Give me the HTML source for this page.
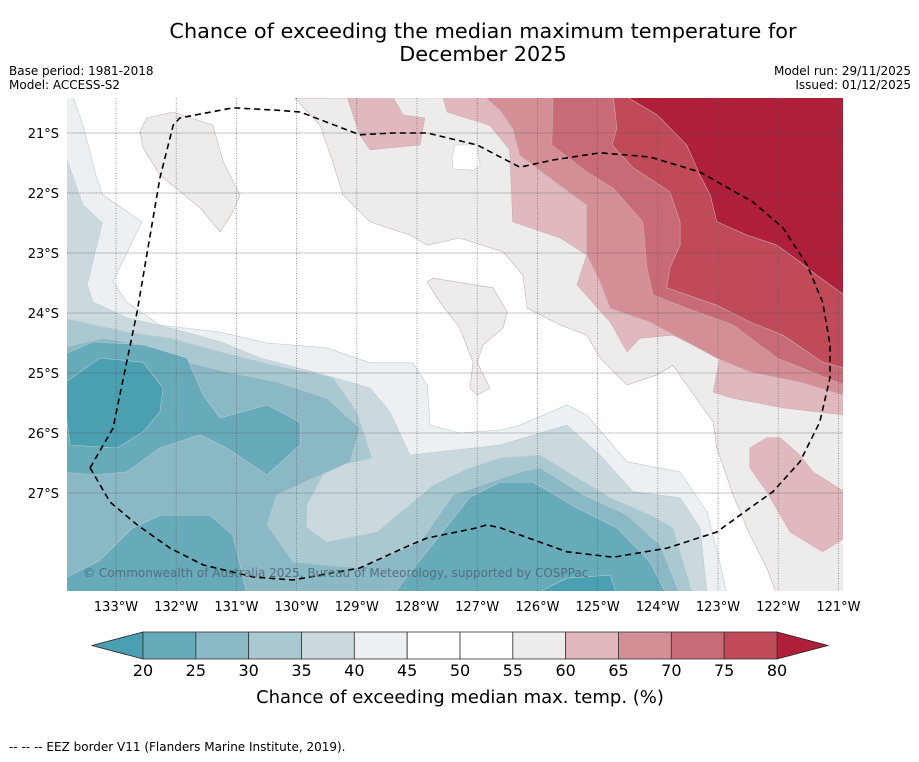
<!DOCTYPE html>
<html><head><meta charset="utf-8">
<style>
html,body{margin:0;padding:0;background:#fff;}
body{width:919px;height:758px;overflow:hidden;font-family:"DejaVu Sans","Liberation Sans",sans-serif;}
svg text{font-family:"DejaVu Sans","Liberation Sans",sans-serif;}
</style></head>
<body>
<svg id="chart" width="919" height="758" viewBox="0 0 919 758" xmlns="http://www.w3.org/2000/svg">
<text x="483" y="38" font-size="20.8" text-anchor="middle" fill="#000">Chance of exceeding the median maximum temperature for</text>
<text x="483" y="61" font-size="20.8" text-anchor="middle" fill="#000">December 2025</text>
<text x="9" y="75" font-size="12">Base period: 1981-2018</text>
<text x="9" y="89" font-size="12">Model: ACCESS-S2</text>
<text x="911" y="75" font-size="12" text-anchor="end">Model run: 29/11/2025</text>
<text x="911" y="89" font-size="12" text-anchor="end">Issued: 01/12/2025</text>
<defs><clipPath id="mapclip"><rect x="67" y="98" width="776" height="493"/></clipPath></defs>
<g id="map" clip-path="url(#mapclip)"></g>
<g id="axes"></g>
<g id="cbar"></g>
<text x="460" y="703" font-size="18" text-anchor="middle">Chance of exceeding median max. temp. (%)</text>
<text x="9" y="751" font-size="12">--  --  -- EEZ border V11 (Flanders Marine Institute, 2019).</text>
</svg>
<script>
var levelColors = ["#4a9fb0","#67aab9","#8ab8c4","#a9c8cf","#cbd9de","#ecf0f2","#ffffff","#ffffff","#eeeceb","#e0b8be","#d48e96","#c96b76","#c04a58","#b01f3a"];
var cbarTicks = [20,25,30,35,40,45,50,55,60,65,70,75,80];
var lonTicks = [-133,-132,-131,-130,-129,-128,-127,-126,-125,-124,-123,-122,-121];
var latTicks = [-21,-22,-23,-24,-25,-26,-27];
var p55 = [[-130.03,-20.42],[-129.61,-20.87],[-129.40,-21.48],[-129.23,-22.03],[-128.78,-22.48],[-128.12,-22.70],[-127.83,-22.87],[-127.29,-22.75],[-126.57,-22.98],[-126.24,-23.37],[-126.17,-23.92],[-125.62,-24.20],[-125.18,-24.37],[-124.96,-24.75],[-124.51,-25.20],[-124.01,-25.03],[-123.75,-24.87],[-123.52,-25.20],[-123.08,-25.82],[-123.02,-26.25],[-122.75,-27.03],[-122.47,-27.70],[-122.19,-28.25],[-122.02,-28.7],[-120.9,-28.7],[-120.9,-20.4]];
var p55nw = [[-132.60,-20.98],[-132.49,-20.75],[-132.05,-20.65],[-131.39,-20.87],[-131.22,-21.48],[-130.94,-22.03],[-131.06,-22.32],[-131.27,-22.65],[-131.60,-22.25],[-132.27,-21.70],[-132.55,-21.25]];
var p55mid = [[-127.83,-23.48],[-127.73,-23.42],[-126.74,-23.58],[-126.50,-23.98],[-126.57,-24.25],[-126.90,-24.53],[-127.00,-24.82],[-126.79,-25.25],[-127.00,-25.37],[-127.12,-25.25],[-127.07,-24.82],[-127.29,-24.25],[-127.62,-23.82]];
var p50isl = [[-127.37,-21.2],[-127.0,-21.2],[-126.95,-21.55],[-127.07,-21.62],[-127.4,-21.6],[-127.42,-21.4]];
var p60 = [[-127.57,-20.4],[-127.50,-20.65],[-126.79,-20.87],[-126.46,-21.28],[-126.41,-22.48],[-125.62,-22.75],[-125.18,-23.03],[-125.34,-23.53],[-124.79,-24.15],[-124.51,-24.65],[-124.30,-24.42],[-123.75,-24.37],[-122.97,-24.75],[-123.08,-25.32],[-122.75,-25.42],[-121.92,-25.58],[-120.9,-25.70],[-120.9,-20.4]];
var p60top = [[-129.16,-20.4],[-128.40,-20.4],[-128.23,-20.70],[-127.87,-20.75],[-127.95,-21.20],[-128.78,-21.28],[-128.95,-21.03]];
var p60blob = [[-122.47,-26.25],[-122.19,-26.08],[-121.97,-26.08],[-121.64,-26.37],[-121.42,-26.65],[-120.9,-26.98],[-120.9,-27.75],[-121.26,-27.98],[-121.80,-27.65],[-122.19,-26.98],[-122.47,-26.58]];
var p65 = [[-126.87,-20.4],[-126.62,-20.62],[-126.41,-20.92],[-126.29,-21.37],[-125.79,-21.75],[-125.18,-22.20],[-125.18,-23.03],[-124.96,-23.48],[-124.79,-23.92],[-124.13,-24.15],[-123.02,-24.75],[-122.47,-24.98],[-121.64,-25.15],[-120.9,-25.37],[-120.9,-20.4]];
var p70 = [[-125.74,-20.4],[-125.76,-21.20],[-125.18,-21.65],[-124.74,-21.92],[-124.25,-22.48],[-124.18,-23.25],[-124.08,-23.70],[-123.52,-23.92],[-122.75,-24.20],[-122.02,-24.75],[-120.9,-25.20],[-120.9,-20.4]];
var p75 = [[-124.74,-20.4],[-124.68,-20.92],[-124.76,-21.20],[-124.41,-21.58],[-123.80,-21.98],[-123.63,-22.48],[-123.63,-22.87],[-123.80,-23.25],[-123.85,-23.58],[-123.02,-23.87],[-122.47,-24.15],[-121.92,-24.37],[-121.26,-24.82],[-120.9,-24.92],[-120.9,-20.4]];
var p80 = [[-124.51,-20.4],[-124.01,-20.70],[-123.52,-21.20],[-123.30,-21.70],[-123.13,-22.03],[-123.02,-22.48],[-122.52,-22.70],[-122.02,-22.87],[-121.64,-23.15],[-121.36,-23.37],[-120.9,-23.70],[-120.9,-20.4]];
var p45 = [[-133.9,-20.4],[-133.71,-20.4],[-133.55,-20.87],[-133.32,-21.75],[-133.22,-22.03],[-132.57,-22.48],[-133.05,-23.48],[-132.82,-23.82],[-132.27,-24.20],[-131.27,-24.32],[-130.49,-24.50],[-129.50,-24.58],[-128.78,-24.83],[-128.07,-24.83],[-127.83,-25.20],[-127.78,-25.87],[-127.29,-26.00],[-126.62,-25.95],[-126.29,-25.87],[-125.51,-25.53],[-125.18,-25.70],[-124.51,-26.48],[-123.63,-26.65],[-123.18,-27.32],[-122.97,-28.15],[-122.85,-28.7],[-133.9,-28.7]];
var p40 = [[-133.9,-21.20],[-133.55,-22.20],[-133.23,-22.50],[-133.48,-23.53],[-133.38,-23.82],[-132.82,-24.08],[-132.10,-24.25],[-131.27,-24.48],[-130.61,-24.75],[-129.73,-24.98],[-128.78,-25.25],[-128.45,-25.65],[-128.12,-26.37],[-126.62,-26.20],[-125.51,-25.87],[-124.96,-26.37],[-124.41,-26.98],[-123.63,-27.08],[-123.30,-27.58],[-123.18,-28.7],[-133.9,-28.7]];
var p35 = [[-133.9,-24.08],[-132.82,-24.32],[-132.10,-24.42],[-131.27,-24.65],[-130.39,-24.87],[-129.40,-25.08],[-129.00,-25.65],[-128.75,-26.42],[-129.50,-26.58],[-129.83,-27.20],[-129.83,-27.58],[-129.50,-27.82],[-128.66,-27.65],[-128.12,-27.20],[-127.73,-26.87],[-127.12,-26.58],[-126.62,-26.42],[-125.96,-26.37],[-125.34,-26.75],[-124.79,-27.08],[-124.13,-27.37],[-123.75,-27.58],[-123.42,-28.7],[-133.9,-28.7]];
var p35isl1 = [[-132.10,-26.53],[-131.94,-26.75],[-132.07,-26.98],[-132.22,-26.75]];
var p35isl2 = [[-133.9,-27.05],[-133.69,-27.05],[-133.69,-27.53],[-133.9,-27.58]];
var p30 = [[-133.9,-24.58],[-133.22,-24.42],[-132.55,-24.53],[-131.82,-24.82],[-131.16,-24.98],[-130.33,-25.15],[-129.50,-25.42],[-128.95,-25.92],[-129.11,-26.48],[-130.33,-27.03],[-130.49,-27.53],[-130.06,-28.15],[-128.95,-28.25],[-127.95,-27.82],[-127.40,-27.03],[-126.29,-26.65],[-125.96,-26.58],[-125.24,-27.03],[-124.51,-27.37],[-123.96,-27.87],[-123.63,-28.7],[-133.9,-28.7]];
var p25a = [[-133.9,-24.70],[-133.38,-24.48],[-132.55,-24.53],[-131.82,-24.75],[-131.55,-25.37],[-131.27,-25.75],[-130.49,-25.53],[-129.94,-25.82],[-129.94,-26.20],[-130.49,-26.70],[-131.16,-26.25],[-131.60,-26.03],[-132.27,-26.25],[-132.82,-26.65],[-133.38,-26.70],[-133.9,-26.65]];
var p25b = [[-133.9,-28.45],[-133.27,-28.12],[-132.72,-27.58],[-132.27,-27.37],[-131.44,-27.37],[-131.06,-27.70],[-130.82,-28.7],[-133.9,-28.7]];
var p25c = [[-128.40,-28.7],[-127.95,-28.12],[-127.12,-27.07],[-126.62,-26.82],[-126.07,-26.82],[-125.34,-27.25],[-124.68,-27.58],[-124.13,-28.15],[-123.85,-28.7]];
var p20a = [[-133.9,-25.20],[-133.27,-24.75],[-132.55,-24.82],[-132.22,-25.25],[-132.27,-25.65],[-132.55,-25.98],[-132.98,-26.25],[-133.76,-26.20]];
var p20b = [[-126.07,-28.7],[-125.51,-28.42],[-124.79,-28.37],[-124.68,-28.7]];
var eezLon = [-133.43,-133.05,-132.65,-132.27,-132.05,-131.94,-131.06,-130.33,-129.94,-128.95,-128.40,-127.83,-127.00,-126.29,-125.74,-124.96,-124.13,-123.30,-122.42,-121.92,-121.52,-121.26,-121.14,-121.14,-121.31,-121.64,-122.09,-122.47,-123.02,-123.85,-124.74,-125.51,-126.62,-126.84,-127.00,-127.83,-128.12,-128.95,-130.06,-130.72,-131.55,-132.10,-132.65,-133.10,-133.43];
var eezLat = [-26.58,-25.92,-23.98,-21.75,-20.87,-20.75,-20.58,-20.62,-20.65,-21.03,-21.00,-21.00,-21.20,-21.57,-21.45,-21.33,-21.40,-21.65,-22.15,-22.58,-23.20,-23.82,-24.53,-25.08,-25.82,-26.48,-26.98,-27.25,-27.65,-27.92,-28.07,-27.98,-27.58,-27.53,-27.58,-27.75,-27.87,-28.25,-28.45,-28.40,-28.20,-27.92,-27.53,-27.15,-26.58];

var NS = "http://www.w3.org/2000/svg";
var X0 = 116, DX = 60.2, Y0 = 133, DY = 60;
function xOf(lon){ return X0 + (lon + 133) * DX; }
function yOf(lat){ return Y0 + (-21 - lat) * DY; }
function ptsStr(arr){
  var s = [];
  for (var i = 0; i < arr.length; i++) { s.push(xOf(arr[i][0]).toFixed(1) + "," + yOf(arr[i][1]).toFixed(1)); }
  return s.join(" ");
}
var map = document.getElementById("map");
var axes = document.getElementById("axes");
var cb = document.getElementById("cbar");

try {
  var bg = document.createElementNS(NS, "rect");
  bg.setAttribute("x", 67); bg.setAttribute("y", 98); bg.setAttribute("width", 776); bg.setAttribute("height", 493); bg.setAttribute("fill", "#ffffff");
  
  
  map.appendChild(bg);
  var layers = [
    [p55,8,"contour-55-60"],[p55nw,8,"contour-55-60-nw"],[p55mid,8,"contour-55-60-mid"],[p50isl,7,"contour-50-55-island"],
    [p60,9,"contour-60-65"],[p60top,9,"contour-60-65-north"],[p60blob,9,"contour-60-65-southeast"],
    [p65,10,"contour-65-70"],[p70,11,"contour-70-75"],[p75,12,"contour-75-80"],[p80,13,"contour-above-80"],
    [p45,5,"contour-40-45"],[p40,4,"contour-35-40"],[p35,3,"contour-30-35"],[p35isl1,4,"contour-35-40-island"],[p35isl2,3,"contour-30-35-edge"],
    [p30,2,"contour-25-30"],[p25a,1,"contour-20-25-west"],[p25b,1,"contour-20-25-southwest"],[p25c,1,"contour-20-25-south"],
    [p20a,0,"contour-below-20-west"],[p20b,0,"contour-below-20-south"]
  ];
  for (var k = 0; k < layers.length; k++) {
    var l = layers[k];
    var pg = document.createElementNS(NS, "polygon");
    pg.setAttribute("points", ptsStr(l[0]));
    pg.setAttribute("fill", levelColors[l[1]]);
    pg.setAttribute("stroke", l[1] >= 8 ? "#c9aeb2" : "#b8cbd2");
    pg.setAttribute("stroke-width", "0.6");
    
    
    map.appendChild(pg);
  }
} catch (e) {}

try {
  for (var i = 0; i < lonTicks.length; i++) {
    var ln = document.createElementNS(NS, "line");
    var gx = xOf(lonTicks[i]);
    ln.setAttribute("x1", gx); ln.setAttribute("x2", gx); ln.setAttribute("y1", 98); ln.setAttribute("y2", 591);
    ln.setAttribute("stroke", "#555"); ln.setAttribute("stroke-width", "0.8"); ln.setAttribute("stroke-dasharray", "1,1.5"); ln.setAttribute("opacity", "0.75");
    
    
    map.appendChild(ln);
  }
  for (var j = 0; j < latTicks.length; j++) {
    var ln2 = document.createElementNS(NS, "line");
    var gy = yOf(latTicks[j]);
    ln2.setAttribute("x1", 67); ln2.setAttribute("x2", 843); ln2.setAttribute("y1", gy); ln2.setAttribute("y2", gy);
    ln2.setAttribute("stroke", "#555"); ln2.setAttribute("stroke-width", "0.8"); ln2.setAttribute("stroke-dasharray", "1,0.6"); ln2.setAttribute("opacity", "0.7");
    
    
    map.appendChild(ln2);
  }
} catch (e) {}

try {
  var ezPts = [];
  for (var q = 0; q < eezLon.length && q < eezLat.length; q++) { ezPts.push([eezLon[q], eezLat[q]]); }
  var ez = document.createElementNS(NS, "polyline");
  ez.setAttribute("points", ptsStr(ezPts));
  ez.setAttribute("fill", "none"); ez.setAttribute("stroke", "#000"); ez.setAttribute("stroke-width", "1.6"); ez.setAttribute("stroke-dasharray", "6,4");
  
  
  map.appendChild(ez);
} catch (e) {}

try {
  var cp = document.createElementNS(NS, "text");
  cp.setAttribute("x", 83); cp.setAttribute("y", 577); cp.setAttribute("font-size", "12"); cp.setAttribute("fill", "#4d6470"); cp.setAttribute("opacity", "0.85");
  cp.textContent = "\u00A9 Commonwealth of Australia 2025, Bureau of Meteorology, supported by COSPPac";
  
  
  map.appendChild(cp);
} catch (e) {}

try {
  for (var a = 0; a < lonTicks.length; a++) {
    var t = document.createElementNS(NS, "text");
    t.setAttribute("x", xOf(lonTicks[a])); t.setAttribute("y", 611); t.setAttribute("font-size", "13"); t.setAttribute("text-anchor", "middle");
    t.textContent = Math.abs(lonTicks[a]) + "\u00B0W";
    
    
    axes.appendChild(t);
  }
  for (var b = 0; b < latTicks.length; b++) {
    var t2 = document.createElementNS(NS, "text");
    t2.setAttribute("x", 59); t2.setAttribute("y", yOf(latTicks[b]) + 5); t2.setAttribute("font-size", "13"); t2.setAttribute("text-anchor", "end");
    t2.textContent = Math.abs(latTicks[b]) + "\u00B0S";
    
    
    axes.appendChild(t2);
  }
} catch (e) {}

try {
  var CB0 = 143, CB1 = 777, CBY = 632, CBH = 27;
  var vmin = cbarTicks[0], vmax = cbarTicks[cbarTicks.length - 1];
  function cbx(v){ return CB0 + (v - vmin) / (vmax - vmin) * (CB1 - CB0); }
  var lt = document.createElementNS(NS, "polygon");
  lt.setAttribute("points", CB0 + "," + CBY + " " + CB0 + "," + (CBY + CBH) + " 92," + (CBY + CBH / 2));
  lt.setAttribute("fill", levelColors[0]); lt.setAttribute("stroke", "#222"); lt.setAttribute("stroke-width", "0.8");
  
  
  cb.appendChild(lt);
  var rt = document.createElementNS(NS, "polygon");
  rt.setAttribute("points", CB1 + "," + CBY + " " + CB1 + "," + (CBY + CBH) + " 828," + (CBY + CBH / 2));
  rt.setAttribute("fill", levelColors[13]); rt.setAttribute("stroke", "#222"); rt.setAttribute("stroke-width", "0.8");
  
  
  cb.appendChild(rt);
  for (var c = 0; c < cbarTicks.length - 1; c++) {
    var r = document.createElementNS(NS, "rect");
    r.setAttribute("x", cbx(cbarTicks[c])); r.setAttribute("y", CBY);
    r.setAttribute("width", cbx(cbarTicks[c + 1]) - cbx(cbarTicks[c])); r.setAttribute("height", CBH);
    r.setAttribute("fill", levelColors[c + 1]); r.setAttribute("stroke", "#333"); r.setAttribute("stroke-width", "0.8");
    
    
    cb.appendChild(r);
  }
  for (var d = 0; d < cbarTicks.length; d++) {
    var t3 = document.createElementNS(NS, "text");
    t3.setAttribute("x", cbx(cbarTicks[d])); t3.setAttribute("y", 676); t3.setAttribute("font-size", "16"); t3.setAttribute("text-anchor", "middle");
    t3.textContent = cbarTicks[d];
    
    
    cb.appendChild(t3);
  }
} catch (e) {}
</script>
</body></html>
